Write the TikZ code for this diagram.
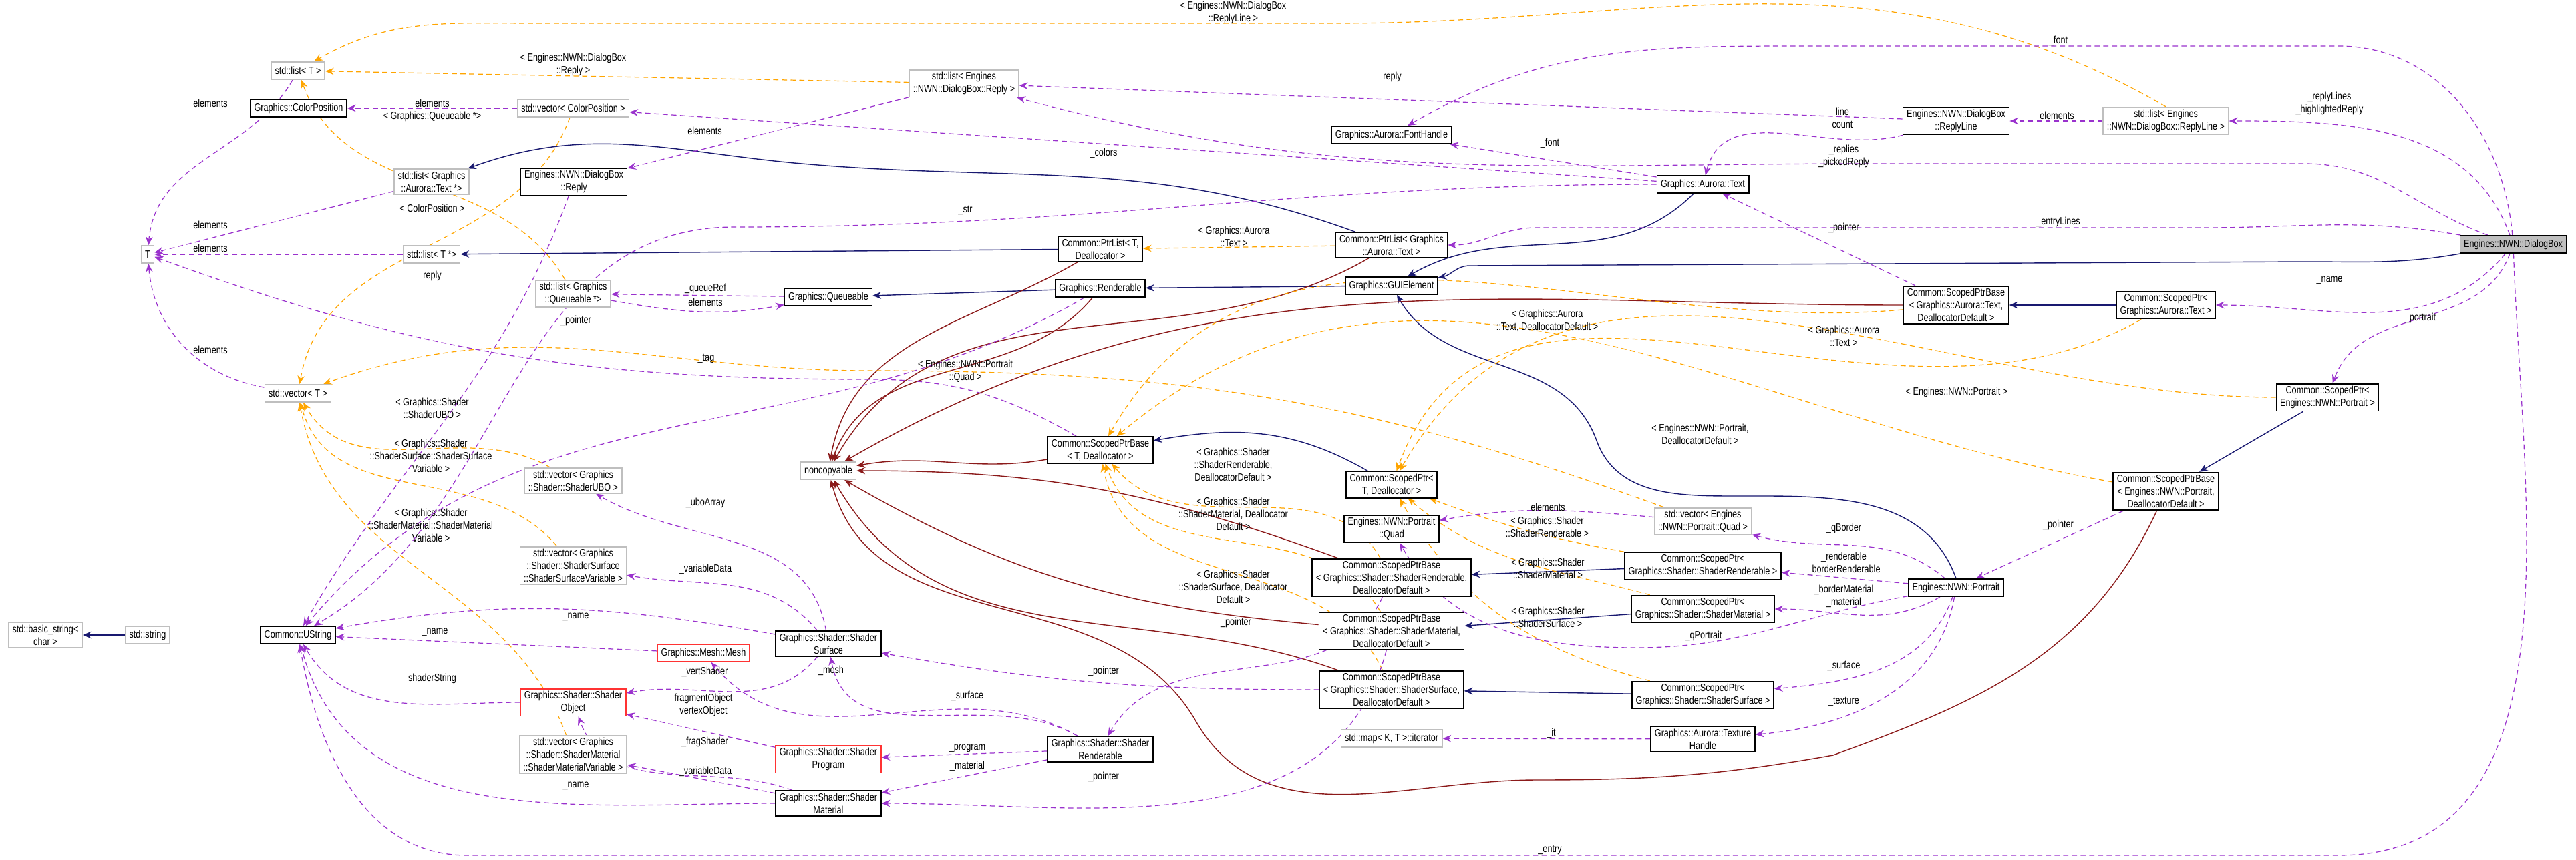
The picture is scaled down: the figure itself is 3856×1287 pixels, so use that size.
\documentclass[tikz,border=0pt]{standalone}
\usepackage{fontspec}
\setmainfont{Liberation Sans}[FakeStretch=0.8]
\usetikzlibrary{arrows.meta,backgrounds}
\definecolor{usecol}{HTML}{9A32CD}
\definecolor{tmplcol}{HTML}{FFA500}
\definecolor{inhcol}{HTML}{191970}
\definecolor{privcol}{HTML}{8B1A1A}
\definecolor{extcol}{HTML}{BFBFBF}
\newcommand\dgfont{\fontsize{4.5}{5.4}\selectfont}
\tikzset{
  cls/.style={draw=black, line width=0.5pt, fill=white, font=\dgfont, align=center, inner xsep=1.6pt, inner ysep=1pt, minimum height=0.26cm},
  ext/.style={cls, draw=extcol},
  undoc/.style={cls, draw=red!80},
  self/.style={cls, fill=extcol},
  lbl/.style={font=\dgfont, align=center, inner sep=0.5pt},
  tip/.style={-{Stealth[length=3.6pt,width=3pt]}},
  use/.style={tip, draw=usecol, line width=0.35pt, dash pattern=on 2.2pt off 1.5pt},
  tmpl/.style={tip, draw=tmplcol, line width=0.35pt, dash pattern=on 2.2pt off 1.5pt},
  inh/.style={tip, draw=inhcol, line width=0.4pt},
  priv/.style={tip, draw=privcol, line width=0.4pt},
}
\begin{document}
\begin{tikzpicture}[x=0.01cm, y=-0.01cm]
   \useasboundingbox (0,0) rectangle (3856,1287);

   % classes
   \node[ext](basicstr) at (68,951) {std::basic\_string<\\char >};
   \node[ext](stdstr) at (221,951) {std::string};
   \node[cls](ustring) at (446,951) {Common::UString};
   \node[ext](T) at (221,381) {T};
   \node[ext](listT) at (446,106) {std::list< T >};
   \node[cls](colorpos) at (447,162) {Graphics::ColorPosition};
   \node[ext](vecT) at (446,589) {std::vector< T >};
   \node[ext](vcolor) at (858,162) {std::vector< ColorPosition >};
   \node[ext](listText) at (646,272) {std::list< Graphics\\::Aurora::Text *>};
   \node[cls](reply) at (859,272) {Engines::NWN::DialogBox\\::Reply};
   \node[ext](listTp) at (646,381) {std::list< T *>};
   \node[ext](listQ) at (858,440) {std::list< Graphics\\::Queueable *>};
   \node[cls](queueable) at (1240,445) {Graphics::Queueable};
   \node[ext](vecUBO) at (858,720) {std::vector< Graphics\\::Shader::ShaderUBO >};
   \node[ext](vecSurfVar) at (858,847) {std::vector< Graphics\\::Shader::ShaderSurface\\::ShaderSurfaceVariable >};
   \node[undoc](mesh) at (1053,978) {Graphics::Mesh::Mesh};
   \node[undoc](shObject) at (858,1052) {Graphics::Shader::Shader\\Object};
   \node[ext](vecMatVar) at (858,1130) {std::vector< Graphics\\::Shader::ShaderMaterial\\::ShaderMaterialVariable >};
   \node[cls](surface) at (1240,964) {Graphics::Shader::Shader\\Surface};
   \node[undoc](program) at (1240,1137) {Graphics::Shader::Shader\\Program};
   \node[cls](material) at (1240,1203) {Graphics::Shader::Shader\\Material};
   \node[ext](noncop) at (1240,705) {noncopyable};
   \node[ext](listReply) at (1443,125) {std::list< Engines\\::NWN::DialogBox::Reply >};
   \node[cls](fonthandle) at (2083,202) {Graphics::Aurora::FontHandle};
   \node[cls](auroraText) at (2549,276) {Graphics::Aurora::Text};
   \node[cls](ptrListT) at (1647,373) {Common::PtrList< T,\\Deallocator >};
   \node[cls](ptrListText) at (2083,367) {Common::PtrList< Graphics\\::Aurora::Text >};
   \node[cls](renderable) at (1647,432) {Graphics::Renderable};
   \node[cls](guiel) at (2083,428) {Graphics::GUIElement};
   \node[cls](spbT) at (1647,674) {Common::ScopedPtrBase\\< T, Deallocator >};
   \node[cls](spT) at (2083,726) {Common::ScopedPtr<\\T, Deallocator >};
   \node[cls](pquad) at (2083,792) {Engines::NWN::Portrait\\::Quad};
   \node[cls](spbRend) at (2083,865) {Common::ScopedPtrBase\\< Graphics::Shader::ShaderRenderable,\\DeallocatorDefault >};
   \node[cls](spbMat) at (2083,945) {Common::ScopedPtrBase\\< Graphics::Shader::ShaderMaterial,\\DeallocatorDefault >};
   \node[cls](spbSurf) at (2083,1033) {Common::ScopedPtrBase\\< Graphics::Shader::ShaderSurface,\\DeallocatorDefault >};
   \node[cls](shRend) at (1647,1122) {Graphics::Shader::Shader\\Renderable};
   \node[ext](mapIter) at (2083,1106) {std::map< K, T >::iterator};
   \node[ext](vecQuad) at (2549,781) {std::vector< Engines\\::NWN::Portrait::Quad >};
   \node[cls](spRend) at (2549,847) {Common::ScopedPtr<\\Graphics::Shader::ShaderRenderable >};
   \node[cls](spMat) at (2549,912) {Common::ScopedPtr<\\Graphics::Shader::ShaderMaterial >};
   \node[cls](spSurf) at (2549,1041) {Common::ScopedPtr<\\Graphics::Shader::ShaderSurface >};
   \node[cls](texH) at (2549,1107) {Graphics::Aurora::Texture\\Handle};
   \node[cls](replyLine) at (2928,181) {Engines::NWN::DialogBox\\::ReplyLine};
   \node[ext](lrl) at (3242,181) {std::list< Engines\\::NWN::DialogBox::ReplyLine >};
   \node[self](dialog) at (3762,366) {Engines::NWN::DialogBox};
   \node[cls](spbText) at (2928,457) {Common::ScopedPtrBase\\< Graphics::Aurora::Text,\\DeallocatorDefault >};
   \node[cls](spText) at (3242,457) {Common::ScopedPtr<\\Graphics::Aurora::Text >};
   \node[cls](spPortrait) at (3484,595) {Common::ScopedPtr<\\Engines::NWN::Portrait >};
   \node[cls](spbPortrait) at (3242,736) {Common::ScopedPtrBase\\< Engines::NWN::Portrait,\\DeallocatorDefault >};
   \node[cls](portrait) at (2928,880) {Engines::NWN::Portrait};

   \begin{pgfonlayer}{background}
   % inheritance
   \draw[inh](stdstr) to (basicstr);
   \draw[inh](ptrListText) to[out=160,in=-5] (1200,245) to[out=175,in=20] (listText);
   \draw[inh](ptrListT) to (listTp);
   \draw[inh](renderable) to (queueable);
   \draw[inh](guiel) to (renderable);
   \draw[inh](auroraText) to[out=-135,in=30] (guiel);
   \draw[inh](dialog) to[out=-170,in=0] (3450,392) -- (2200,398) to[out=180,in=10] (guiel);
   \draw[inh](portrait.north) to[out=110,in=0] (2600,743) to[out=180,in=-70] (2390,660) to[out=110,in=-60] (guiel);
   \draw[inh](spT) to[out=150,in=10] (spbT);
   \draw[inh](spText) to (spbText);
   \draw[inh](spPortrait) to (spbPortrait);
   \draw[inh](spRend) to (spbRend);
   \draw[inh](spMat) to (spbMat);
   \draw[inh](spSurf) to (spbSurf);

   % private inheritance
   \draw[priv](ptrListT) to[out=-150,in=80] (noncop);
   \draw[priv](ptrListText) to[out=-150,in=60] (noncop);
   \draw[priv](renderable) to[out=-130,in=70] (noncop);
   \draw[priv](spbT) to[out=190,in=10] (noncop);
   \draw[priv](spbText) to[out=180,in=30] (noncop);
   \draw[priv](spbRend) to[out=160,in=0] (noncop);
   \draw[priv](spbMat) to[out=175,in=-30] (noncop);
   \draw[priv](spbSurf) to[out=160,in=-60] (noncop);
   \draw[priv](spbPortrait) to[out=-115,in=20] (2744,1131) to[out=190,in=0] (2300,1168) to[out=180,in=-60] (1790,1080) to[out=120,in=-75] (noncop);

   % templates
   \draw[tmpl](lrl.north) to[out=150,in=0] (2000,35) -- (800,35) to[out=180,in=30] (listT);
   \draw[tmpl](listReply) to (listT);
   \draw[tmpl](listQ) to[out=120,in=-70] (listT);
   \draw[tmpl](vcolor) to[out=-110,in=80] (vecT);
   \draw[tmpl](vecUBO) to[out=150,in=-60] (vecT);
   \draw[tmpl](vecSurfVar) to[out=130,in=-75] (vecT);
   \draw[tmpl](vecMatVar) to[out=110,in=-80] (vecT);
   \draw[tmpl](vecQuad) to[out=160,in=0] (1300,555) to[out=180,in=20] (vecT);
   \draw[tmpl](ptrListText) to (ptrListT);
   \draw[tmpl](spbText) to[out=185,in=60] (spbT);
   \draw[tmpl](spText) to[out=-150,in=70] (spT);
   \draw[tmpl](spPortrait) to[out=180,in=60] (spT);
   \draw[tmpl](spbPortrait) to[out=170,in=40] (spbT);
   \draw[tmpl](spbRend) to[out=120,in=-50] (spbT);
   \draw[tmpl](spbMat) to[out=120,in=-70] (spbT);
   \draw[tmpl](spbSurf) to[out=115,in=-80] (spbT);
   \draw[tmpl](spRend) to[out=170,in=-20] (spT);
   \draw[tmpl](spMat) to[out=165,in=-40] (spT);
   \draw[tmpl](spSurf) to[out=165,in=-60] (spT);

   % usage
   \draw[use](listT) to[out=-120,in=85] (T);
   \draw[use](listText) to (T);
   \draw[use](listTp) to (T);
   \draw[use](vecT) to[out=170,in=-85] (T);
   \draw[use](spbT) to[out=150,in=0] (1300,568) to[out=180,in=-20] (T);
   \draw[use](vcolor) to (colorpos);
   \draw[use](auroraText) to (vcolor);
   \draw[use](replyLine) to (listReply);
   \draw[use](dialog) to[out=160,in=0] (3450,245) -- (2800,245) to[out=180,in=-15] (listReply);
   \draw[use](replyLine) to[out=195,in=75] (auroraText);
   \draw[use](lrl) to (replyLine);
   \draw[use](dialog) to[out=95,in=0] (3500,69) -- (2700,69) to[out=180,in=30] (fonthandle);
   \draw[use](dialog) to[out=110,in=0] (lrl);
   \draw[use](auroraText) to (fonthandle);
   \draw[use](auroraText) to[out=180,in=0] (1100,340) to[out=180,in=30] (ustring);
   \draw[use](listReply) to (reply);
   \draw[use](reply) to[out=-110,in=60] (ustring);
   \draw[use](dialog) to[out=170,in=0] (3300,341) -- (2300,341) to[out=180,in=0] (ptrListText);
   \draw[use](spbText) to (auroraText);
   \draw[use](dialog) to[out=-130,in=0] (spText);
   \draw[use](dialog) to[out=-110,in=70] (spPortrait);
   \draw[use](dialog) to[out=-88,in=0] (3500,1281) -- (700,1281) to[out=180,in=-80] (ustring);
   \draw[use](renderable) to[out=-150,in=50] (ustring);
   \draw[use](queueable) to (listQ);
   \draw[use](listQ) to[out=-10,in=190] (queueable);
   \draw[use](surface) to[out=100,in=-30] (vecUBO);
   \draw[use](surface) to[out=130,in=-10] (vecSurfVar);
   \draw[use](surface) to[out=170,in=10] (ustring);
   \draw[use](mesh) to (ustring);
   \draw[use](surface) to[out=-130,in=10] (shObject);
   \draw[use](shObject) to[out=180,in=-60] (ustring);
   \draw[use](program) to (shObject);
   \draw[use](material) to[out=160,in=-70] (shObject);
   \draw[use](material) to (vecMatVar);
   \draw[use](material) to[out=180,in=-75] (ustring);
   \draw[use](shRend) to[out=150,in=-80] (surface);
   \draw[use](shRend) to[out=150,in=-50] (mesh);
   \draw[use](shRend) to (program);
   \draw[use](shRend) to (material);
   \draw[use](spbSurf) to[out=180,in=-10] (surface);
   \draw[use](spbMat) to[out=-105,in=0] (material);
   \draw[use](spbRend) to[out=-115,in=60] (shRend);
   \draw[use](vecQuad) to[out=175,in=10] (pquad);
   \draw[use](portrait) to[out=-170,in=0] (2450,970) to[out=180,in=-60] (pquad);
   \draw[use](portrait) to[out=140,in=-15] (vecQuad);
   \draw[use](portrait) to (spRend);
   \draw[use](portrait) to[out=-150,in=0] (spMat);
   \draw[use](portrait) to[out=-110,in=5] (spSurf);
   \draw[use](portrait) to[out=-100,in=5] (texH);
   \draw[use](spbPortrait) to (portrait);
   \draw[use](texH) to (mapIter);
   \end{pgfonlayer}

   % connector labels
   \node[lbl](l01) at (1846,19) {< Engines::NWN::DialogBox\\::ReplyLine >};
   \node[lbl](l02) at (858,97) {< Engines::NWN::DialogBox\\::Reply >};
   \node[lbl](l03) at (647,174) {< Graphics::Queueable *>};
   \node[lbl](l04) at (647,312) {< ColorPosition >};
   \node[lbl](l05) at (647,611) {< Graphics::Shader\\::ShaderUBO >};
   \node[lbl](l06) at (645,683) {< Graphics::Shader\\::ShaderSurface::ShaderSurface\\Variable >};
   \node[lbl](l07) at (645,787) {< Graphics::Shader\\::ShaderMaterial::ShaderMaterial\\Variable >};
   \node[lbl](l08) at (1445,556) {< Engines::NWN::Portrait\\::Quad >};
   \node[lbl](l09) at (1847,354) {< Graphics::Aurora\\::Text >};
   \node[lbl](l10) at (2316,480) {< Graphics::Aurora\\::Text, DeallocatorDefault >};
   \node[lbl](l11) at (2760,503) {< Graphics::Aurora\\::Text >};
   \node[lbl](l12) at (2929,587) {< Engines::NWN::Portrait >};
   \node[lbl](l13) at (2545,650) {< Engines::NWN::Portrait,\\DeallocatorDefault >};
   \node[lbl](l14) at (1846,696) {< Graphics::Shader\\::ShaderRenderable,\\DeallocatorDefault >};
   \node[lbl](l15) at (1846,770) {< Graphics::Shader\\::ShaderMaterial, Deallocator\\Default >};
   \node[lbl](l16) at (1846,879) {< Graphics::Shader\\::ShaderSurface, Deallocator\\Default >};
   \node[lbl](l17) at (2316,789) {< Graphics::Shader\\::ShaderRenderable >};
   \node[lbl](l18) at (2317,851) {< Graphics::Shader\\::ShaderMaterial >};
   \node[lbl](l19) at (2317,924) {< Graphics::Shader\\::ShaderSurface >};
   \node[lbl](u01) at (315,155) {elements};
   \node[lbl](u02) at (315,337) {elements};
   \node[lbl](u03) at (315,372) {elements};
   \node[lbl](u04) at (315,524) {elements};
   \node[lbl](u05) at (862,480) {\_pointer};
   \node[lbl](u06) at (647,155) {elements};
   \node[lbl](u07) at (1652,229) {\_colors};
   \node[lbl](u08) at (2084,115) {reply};
   \node[lbl](u09) at (2760,234) {\_replies\\\_pickedReply};
   \node[lbl](u10) at (2758,176) {line\\count};
   \node[lbl](u11) at (3079,173) {elements};
   \node[lbl](u12) at (3081,61) {\_font};
   \node[lbl](u13) at (3487,155) {\_replyLines\\\_highlightedReply};
   \node[lbl](u14) at (2320,214) {\_font};
   \node[lbl](u15) at (1445,315) {\_str};
   \node[lbl](u16) at (1055,196) {elements};
   \node[lbl](u17) at (647,413) {reply};
   \node[lbl](u18) at (3081,332) {\_entryLines};
   \node[lbl](u19) at (2760,341) {\_pointer};
   \node[lbl](u20) at (3487,420) {\_name};
   \node[lbl](u21) at (3623,476) {\_portrait};
   \node[lbl](u22) at (2320,1273) {\_entry};
   \node[lbl](u23) at (1057,537) {\_tag};
   \node[lbl](u24) at (1056,432) {\_queueRef};
   \node[lbl](u25) at (1056,453) {elements};
   \node[lbl](u26) at (1056,753) {\_uboArray};
   \node[lbl](u27) at (1056,852) {\_variableData};
   \node[lbl](u28) at (862,924) {\_name};
   \node[lbl](u29) at (651,947) {\_name};
   \node[lbl](u30) at (1055,1006) {\_vertShader};
   \node[lbl](u31) at (647,1016) {shaderString};
   \node[lbl](u32) at (1053,1056) {fragmentObject\\vertexObject};
   \node[lbl](u33) at (1055,1111) {\_fragShader};
   \node[lbl](u34) at (1056,1155) {\_variableData};
   \node[lbl](u35) at (862,1177) {\_name};
   \node[lbl](u36) at (1448,1042) {\_surface};
   \node[lbl](u37) at (1244,1004) {\_mesh};
   \node[lbl](u38) at (1448,1121) {\_program};
   \node[lbl](u39) at (1448,1147) {\_material};
   \node[lbl](u40) at (1652,1005) {\_pointer};
   \node[lbl](u41) at (1652,1163) {\_pointer};
   \node[lbl](u42) at (1850,932) {\_pointer};
   \node[lbl](u43) at (2317,760) {elements};
   \node[lbl](u44) at (2550,952) {\_qPortrait};
   \node[lbl](u45) at (2760,791) {\_qBorder};
   \node[lbl](u46) at (2760,844) {\_renderable\\\_borderRenderable};
   \node[lbl](u47) at (2760,893) {\_borderMaterial\\\_material};
   \node[lbl](u48) at (2760,997) {\_surface};
   \node[lbl](u49) at (2760,1051) {\_texture};
   \node[lbl](u50) at (3081,786) {\_pointer};
   \node[lbl](u51) at (2322,1098) {\_it};
\end{tikzpicture}
\end{document}
